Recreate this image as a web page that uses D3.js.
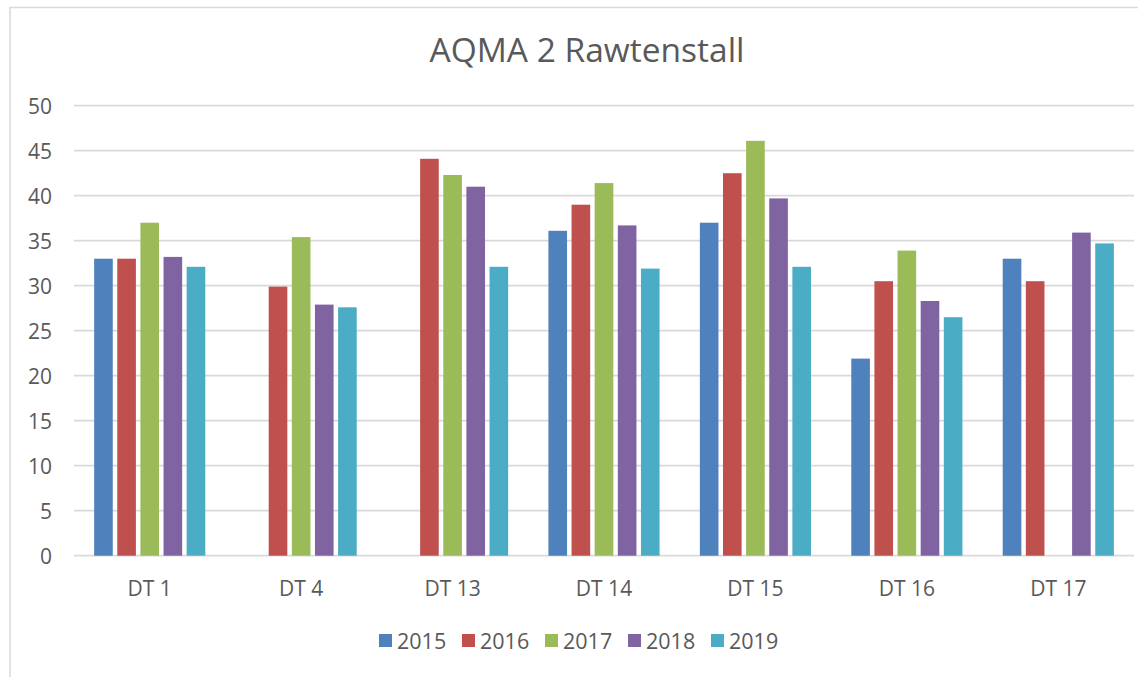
<!DOCTYPE html>
<html>
<head>
<meta charset="utf-8">
<script src="https://cdn.jsdelivr.net/npm/d3@7"></script>
<style>
  body { margin: 0; background: #fff; }
  text { font-family: 'Open Sans', sans-serif; fill: #595959; }
</style>
</head>
<body>
<div id="chart"></div>
<script>
const categories = ['DT 1', 'DT 4', 'DT 13', 'DT 14', 'DT 15', 'DT 16', 'DT 17'];
const years = ['2015', '2016', '2017', '2018', '2019'];
const colors = ['#4F81BD', '#C0504D', '#9BBB59', '#8064A2', '#4BACC6'];

// one array per year, null where no bar is drawn
const v2015 = [33.0, null, null, 36.1, 37.0, 21.9, 33.0];
const v2016 = [33.0, 29.9, 44.1, 39.0, 42.5, 30.5, 30.5];
const v2017 = [37.0, 35.4, 42.3, 41.4, 46.1, 33.9, null];
const v2018 = [33.2, 27.9, 41.0, 36.7, 39.7, 28.3, 35.9];
const v2019 = [32.1, 27.6, 32.1, 31.9, 32.1, 26.5, 34.7];
const yTicks = [0, 5, 10, 15, 20, 25, 30, 35, 40, 45, 50];

const series = [v2015, v2016, v2017, v2018, v2019];

const width = 1148;
const height = 677;
const plot = { left: 74, right: 1134, top: 105.7, bottom: 555.7 };

const svg = d3.select('#chart')
  .append('svg')
  .attr('width', width)
  .attr('height', height);

svg.append('rect')
  .attr('width', width)
  .attr('height', height)
  .attr('fill', '#fff');

// chart frame (only left and top edges are visible in the picture)
svg.append('path')
  .attr('d', 'M10,677 L10,7.5 L1138,7.5')
  .attr('fill', 'none')
  .attr('stroke', '#d9d9d9')
  .attr('stroke-width', 1.5);

svg.append('text')
  .attr('x', 587)
  .attr('y', 62)
  .attr('text-anchor', 'middle')
  .attr('font-size', '33.5px')
  .text('AQMA 2 Rawtenstall');

const y = d3.scaleLinear().domain([0, 50]).range([plot.bottom, plot.top]);

const x0 = d3.scaleBand()
  .domain(categories)
  .range([plot.left, plot.right])
  .padding(0);

const x1 = d3.scaleBand()
  .domain(years)
  .range([x0.bandwidth() * 0.133, x0.bandwidth() * 0.867])
  .paddingInner(0.195)
  .paddingOuter(0);

// gridlines
const grid = svg.append('g').attr('class', 'grid');
grid.selectAll('line')
  .data(yTicks)
  .join('line')
  .attr('x1', plot.left)
  .attr('x2', plot.right)
  .attr('y1', d => y(d))
  .attr('y2', d => y(d))
  .attr('stroke', '#d9d9d9')
  .attr('stroke-width', 1.7);

// y axis labels
const yAxis = d3.axisLeft(y).tickValues(yTicks).tickSize(0).tickPadding(0);
svg.append('g')
  .attr('transform', 'translate(52,0)')
  .call(yAxis)
  .call(g => g.select('.domain').remove())
  .call(g => g.selectAll('text')
    .attr('font-size', '21px')
    .attr('font-family', "'Open Sans', sans-serif")
    .attr('fill', '#595959')
    .attr('dy', '0.35em'));

// bars
const groups = svg.append('g').attr('class', 'bars')
  .selectAll('g')
  .data(series)
  .join('g')
  .attr('fill', (d, i) => colors[i]);

groups.each(function (values, si) {
  d3.select(this)
    .selectAll('rect')
    .data(values.map((v, ci) => ({ v, cat: categories[ci] })).filter(d => d.v != null))
    .join('rect')
    .attr('x', d => x0(d.cat) + x1(years[si]))
    .attr('width', x1.bandwidth())
    .attr('y', d => y(d.v))
    .attr('height', d => y(0) - y(d.v));
});

// category axis
const xAxis = d3.axisBottom(x0).tickSize(0).tickPadding(0);
svg.append('g')
  .attr('transform', `translate(0,${plot.bottom})`)
  .call(xAxis)
  .call(g => g.select('.domain').remove())
  .call(g => g.selectAll('text')
    .attr('font-size', '21px')
    .attr('font-family', "'Open Sans', sans-serif")
    .attr('fill', '#595959')
    .attr('dy', null)
    .attr('y', 40));

// legend
const legend = svg.append('g').attr('class', 'legend');
const legendX = d3.scalePoint().domain(years).range([379, 711]);

const item = legend.selectAll('g')
  .data(years)
  .join('g')
  .attr('transform', d => `translate(${legendX(d)},634)`);

item.append('rect')
  .attr('width', 13)
  .attr('height', 13)
  .attr('fill', (d, i) => colors[i]);

item.append('text')
  .attr('x', 18)
  .attr('y', 15)
  .attr('font-size', '21.5px')
  .text(d => d);
</script>
</body>
</html>
